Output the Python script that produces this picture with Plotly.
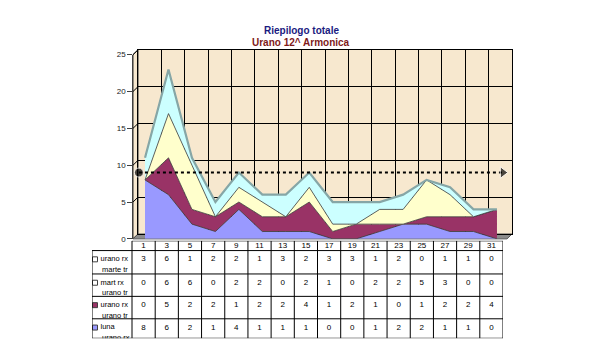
import plotly.graph_objects as go

# ---------------- data ----------------
categories = [1, 3, 5, 7, 9, 11, 13, 15, 17, 19, 21, 23, 25, 27, 29, 31]
series_names = ["luna<br>urano rx", "urano rx<br>urano tr", "mart rx<br>urano tr", "urano rx<br>marte tr"]
luna_urano_rx = [8, 6, 2, 1, 4, 1, 1, 1, 0, 0, 1, 2, 2, 1, 1, 0]
urano_rx_urano_tr = [0, 5, 2, 2, 1, 2, 2, 4, 1, 2, 1, 0, 1, 2, 2, 4]
mart_rx_urano_tr = [0, 6, 6, 0, 2, 2, 0, 2, 1, 0, 2, 2, 5, 3, 0, 0]
urano_rx_marte_tr = [3, 6, 1, 2, 2, 1, 3, 2, 3, 3, 1, 2, 0, 1, 1, 0]
threshold = 9
y_ticks = [0, 5, 10, 15, 20, 25]
title_line1 = "Riepilogo totale"
title_line2 = "Urano 12^ Armonica"

# ---------------- geometry helpers (pixels -> paper) ----------------
W, H = 603, 354
def px(p):
    return p / W
def py(p):
    return 1 - p / H

n = len(categories)
idx = list(range(n))

colors = {
    "luna": "#9999FF",
    "uutr": "#993366",
    "mart": "#FFFFCC",
    "umtr": "#CCFFFF",
}
wall_col = "#F7E8CF"

fig = go.Figure()

# wall subplot (x/y) - drawn first
fig.add_trace(go.Scatter(x=[0], y=[0], mode="markers", marker=dict(opacity=0),
                         xaxis="x", yaxis="y", hoverinfo="skip"))

# data subplot (x2/y2)
series = [
    (series_names[0], luna_urano_rx, colors["luna"]),
    (series_names[1], urano_rx_urano_tr, colors["uutr"]),
    (series_names[2], mart_rx_urano_tr, colors["mart"]),
    (series_names[3], urano_rx_marte_tr, colors["umtr"]),
]
for i, (name, vals, col) in enumerate(series):
    top = i == len(series) - 1
    fig.add_trace(go.Scatter(
        x=idx, y=vals, name=name.replace("<br>", " "), stackgroup="one",
        mode="lines", fillcolor=col,
        line=dict(color="#86A6A6" if top else "#3A3A3A", width=2.2 if top else 0.8),
        xaxis="x2", yaxis="y2", hoverinfo="skip"))

# threshold line with dot and arrow
fig.add_trace(go.Scatter(
    x=[-0.26, n - 0.75], y=[threshold, threshold], mode="lines+markers",
    line=dict(color="black", width=2, dash="dot"),
    marker=dict(symbol=["circle", "triangle-right"], size=[9, 10], color="black"),
    xaxis="x2", yaxis="y2", hoverinfo="skip"))

# ---------------- table subplot (x3/y3) ----------------
col_w = 23.1875
lab_w = 40
x3_min = -0.5 - lab_w / col_w
def tx(p):  # pixel x -> x3 units
    return x3_min + (p - 92) / col_w

row_tops = [10, 34, 57, 80]
row_bounds = [0, 10, 34, 57, 80, 100]
table_rows = [
    (series_names[3], urano_rx_marte_tr, "#FFFFFF"),
    (series_names[2], mart_rx_urano_tr, "#FFFFFF"),
    (series_names[1], urano_rx_urano_tr, colors["uutr"]),
    (series_names[0], luna_urano_rx, colors["luna"]),
]
tfont = dict(family="Arial, Liberation Sans", size=8, color="black")
lfont = dict(family="Arial, Liberation Sans", size=7.5, color="black")

# header
fig.add_trace(go.Scatter(x=idx, y=[5] * n, text=[str(c) for c in categories],
                         mode="text", textfont=tfont, xaxis="x3", yaxis="y3", hoverinfo="skip"))
for r, (name, vals, kcol) in enumerate(table_rows):
    yt = row_tops[r] + 9
    fig.add_trace(go.Scatter(x=idx, y=[yt] * n, text=[str(v) for v in vals],
                             mode="text", textfont=tfont, xaxis="x3", yaxis="y3", hoverinfo="skip"))
    l1, l2 = name.split("<br>")
    fig.add_trace(go.Scatter(x=[tx(95)], y=[yt], mode="markers",
                             marker=dict(symbol="square", size=5, color=kcol,
                                         line=dict(color="#404040", width=1)),
                             xaxis="x3", yaxis="y3", hoverinfo="skip"))
    fig.add_trace(go.Scatter(x=[tx(100.5)], y=[yt], text=[l1], mode="text",
                             textposition="middle right", textfont=lfont,
                             xaxis="x3", yaxis="y3", hoverinfo="skip"))
    fig.add_trace(go.Scatter(x=[tx(102)], y=[yt + 11], text=[l2], mode="text",
                             textposition="middle right", textfont=lfont,
                             xaxis="x3", yaxis="y3", hoverinfo="skip"))

shapes = []
# table borders
for k, yb in enumerate(row_bounds):
    x0 = -0.5 if k == 0 else x3_min
    shapes.append(dict(type="line", xref="x3", yref="y3", x0=x0, x1=n - 0.5, y0=yb, y1=yb,
                       line=dict(color="black", width=1)))
for k in range(n + 1):
    shapes.append(dict(type="line", xref="x3", yref="y3", x0=k - 0.5, x1=k - 0.5, y0=0, y1=100,
                       line=dict(color="black", width=1)))
shapes.append(dict(type="line", xref="x3", yref="y3", x0=x3_min, x1=x3_min, y0=10, y1=100,
                   line=dict(color="black", width=1)))

# back wall background
shapes.append(dict(type="rect", xref="x domain", yref="y domain", x0=0, x1=1, y0=0, y1=1,
                   fillcolor=wall_col, line=dict(width=0), layer="below"))
# side wall
def path(pts):
    s = "M " + " L ".join(f"{px(a)},{py(b)}" for a, b in pts) + " Z"
    return s
shapes.append(dict(type="path", xref="paper", yref="paper",
                   path=path([(133, 52), (138, 47), (138, 236), (133, 241)]),
                   fillcolor=wall_col, line=dict(color="#333", width=1), layer="below"))
for k in range(6):
    yf = 241 - k * 37.8
    yb = 236 - k * 37.8
    shapes.append(dict(type="line", xref="paper", yref="paper", x0=px(133), x1=px(138),
                       y0=py(yf), y1=py(yb), line=dict(color="black", width=1), layer="below"))
# floor
shapes.append(dict(type="path", xref="paper", yref="paper",
                   path=path([(133, 241), (138, 236), (512, 236), (507, 241)]),
                   fillcolor="#8C8C8C", line=dict(color="#555", width=1), layer="below"))

annotations = [
    dict(text=f"<b>{title_line1}</b>", x=px(301), y=py(20), xref="paper", yref="paper",
         showarrow=False, font=dict(family="Arial, Liberation Sans", size=10, color="#1A1A80")),
    dict(text=f"<b>{title_line2}</b>", x=px(301), y=py(32), xref="paper", yref="paper",
         showarrow=False, font=dict(family="Arial, Liberation Sans", size=10, color="#801A1A")),
]

axis_hidden = dict(showgrid=False, zeroline=False, showticklabels=False, ticks="", showline=False)

fig.update_layout(
    width=W, height=H, margin=dict(l=0, r=0, t=0, b=0),
    paper_bgcolor="white", plot_bgcolor="rgba(0,0,0,0)",
    showlegend=False,
    font=dict(family="Arial, Liberation Sans", size=8, color="black"),
    xaxis=dict(domain=[px(138), px(512)], range=[0, n], dtick=1, tick0=0,
               showgrid=True, gridcolor="black", gridwidth=1, zeroline=False,
               showticklabels=False, ticks="", showline=True, mirror=True, linecolor="black",
               anchor="y"),
    yaxis=dict(domain=[py(236), py(47)], range=[0, 25], dtick=5, tick0=0,
               showgrid=True, gridcolor="black", gridwidth=1, zeroline=False,
               showticklabels=False, ticks="", showline=True, mirror=True, linecolor="black",
               anchor="x"),
    xaxis2=dict(domain=[px(133.3), px(508.7)], range=[-0.5, n - 0.5], anchor="y2", **axis_hidden),
    yaxis2=dict(domain=[py(241), py(52)], range=[0, 25], tickvals=y_ticks, ticks="outside",
                ticklen=5, tickcolor="#404040", showline=True, linecolor="#404040",
                showgrid=False, zeroline=False, anchor="x2",
                tickfont=dict(family="Arial, Liberation Sans", size=8, color="#222")),
    xaxis3=dict(domain=[px(92), px(503)], range=[x3_min, n - 0.5], anchor="y3", **axis_hidden),
    yaxis3=dict(domain=[py(343), py(243)], range=[100, 0], anchor="x3", **axis_hidden),
    shapes=shapes,
    annotations=annotations,
)

fig.write_html("out.html")
